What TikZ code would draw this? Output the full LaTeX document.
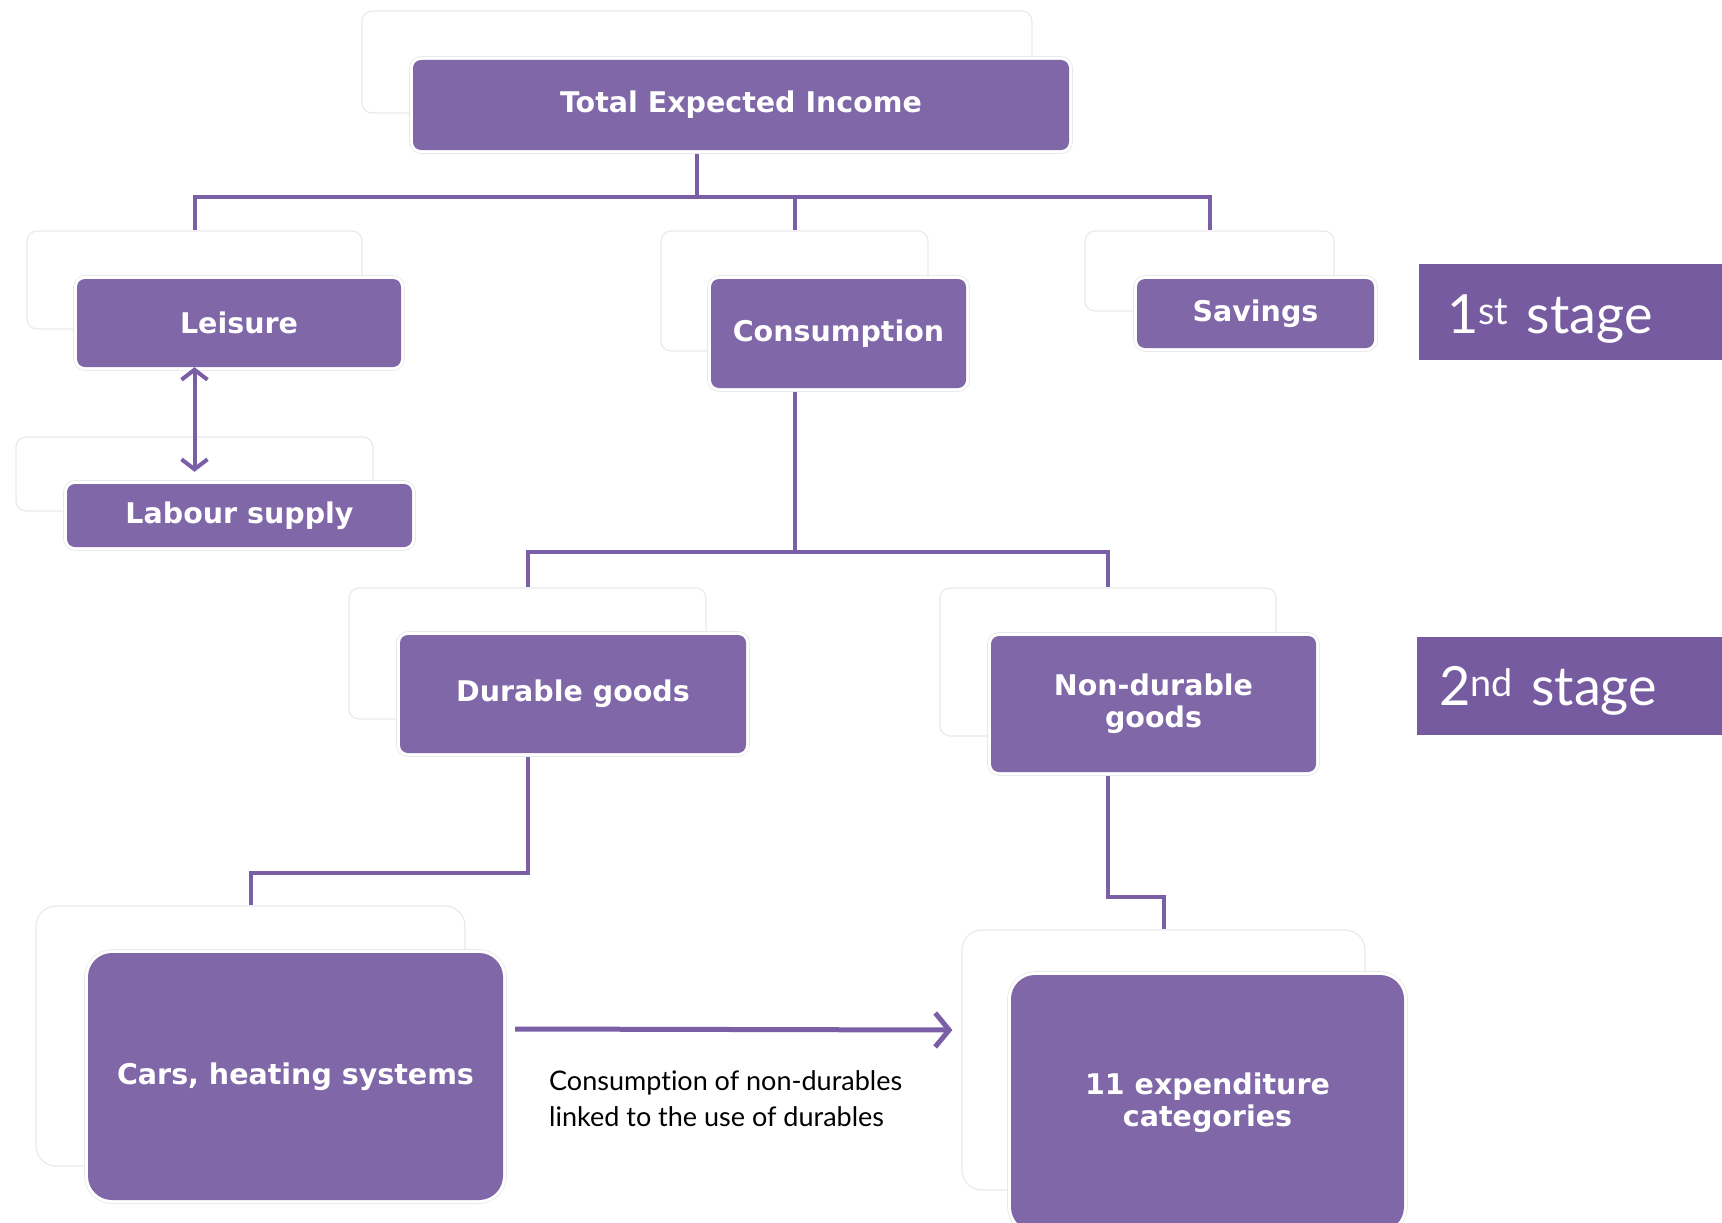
\documentclass[tikz,border=0pt]{standalone}
\usepackage{fontspec}
\setmainfont{Lato}[Ligatures=NoCommon]
\newfontfamily\boxfont{DejaVu Sans}
\usetikzlibrary{arrows.meta,calc}
\definecolor{boxpurple}{HTML}{8068A8}
\definecolor{stagepurple}{HTML}{765BA0}
\definecolor{linepurple}{HTML}{7A5EA6}
\definecolor{bgline}{HTML}{EAEAEA}
\begin{document}
\begin{tikzpicture}[x=1pt,y=-1pt,
  bgbox/.style={draw=bgline, line width=1.2pt, fill=white, rounded corners=10pt, inner sep=0pt},
  pbox/.style={fill=boxpurple, rounded corners=8pt, inner sep=0pt, text=white,
    font=\boxfont\bfseries\fontsize{28.5}{32}\selectfont, align=center,
    preaction={draw=black!9, double=white, double distance=6pt, line width=0.8pt}},
  bigbox/.style={pbox, rounded corners=24pt},
  conn/.style={draw=linepurple, line width=4pt},
  stagebox/.style={fill=stagepurple, inner ysep=0pt, anchor=north west, text=white,
    font=\fontsize{54}{60}\selectfont, align=left},
  note/.style={font=\fontsize{27}{36}\selectfont, align=left, anchor=west, inner sep=0pt}
]
\useasboundingbox (0,0) rectangle (1722,1223);
\clip (0,0) rectangle (1722,1223);

% background (offset) boxes
\node[bgbox, minimum width=670, minimum height=102] (teiBg) at (697,62) {};
\node[bgbox, minimum width=335, minimum height=98] (leisureBg) at (194.5,280) {};
\node[bgbox, minimum width=267, minimum height=120] (consBg) at (794.5,291) {};
\node[bgbox, minimum width=249, minimum height=80] (savBg) at (1209.5,271) {};
\node[bgbox, minimum width=357, minimum height=74] (labBg) at (194.5,474) {};
\node[bgbox, minimum width=357, minimum height=131] (durBg) at (527.5,653.5) {};
\node[bgbox, minimum width=336, minimum height=148] (ndBg) at (1108,662) {};
\node[bgbox, minimum width=429, minimum height=260, rounded corners=20pt] (carsBg) at (250.5,1036) {};
\node[bgbox, minimum width=403, minimum height=260, rounded corners=20pt] (expBg) at (1163.5,1060) {};

% connectors
\draw[conn] (teiBg.south) -- (teiBg.south |- 0,197) coordinate (bus1);
\draw[conn] (leisureBg.north) |- (savBg.north |- bus1) -- (savBg.north);
\draw[conn] (consBg.north) -- (consBg.north |- bus1);
\draw[conn] (consBg.south) -- (consBg.south |- 0,552) coordinate (bus2);
\draw[conn] (durBg.north) |- (ndBg.north |- bus2) -- (ndBg.north);
\draw[conn] (durBg.south) -- (durBg.south |- 0,873) -| (carsBg.north);
\draw[conn] (ndBg.south) -- (ndBg.south |- 0,897) -| (expBg.north);

% main boxes
\node[pbox, minimum width=656, minimum height=90] (tei) at (741,105) {Total Expected Income};
\node[pbox, minimum width=324, minimum height=88] (leisure) at (239,323) {Leisure};
\node[pbox, minimum width=255, minimum height=109] (cons) at (838.5,333.5) {Consumption};
\node[pbox, minimum width=237, minimum height=69] (sav) at (1255.5,313.5) {Savings};
\node[pbox, minimum width=345, minimum height=63] (lab) at (239.5,515.5) {Labour supply};
\node[pbox, minimum width=346, minimum height=118] (dur) at (573,694) {Durable goods};
\node[pbox, minimum width=325, minimum height=136] (nd) at (1153.5,704) {Non-durable\\goods};
\node[bigbox, minimum width=415, minimum height=247] (cars) at (295.5,1076.5) {Cars, heating systems};
\node[bigbox, minimum width=393, minimum height=256] (exp) at (1207.5,1103) {11 expenditure\\categories};

% arrows
\draw[linepurple, line width=4pt, {Straight Barb[length=10pt,width=26pt]}-{Straight Barb[length=10pt,width=26pt]}]
  (leisureBg.center |- leisure.south) -- ($(labBg.center |- lab.north)+(0,-12)$);
\draw[linepurple, line width=5pt, -{Straight Barb[length=14pt,width=34pt]}]
  ($(cars.east |- 0,1029)+(12,0)$) -- ($(expBg.west |- 0,1030)+(-9,0)$);
\node[note] (notetext) at (549,1099) {Consumption of non-durables\\linked to the use of durables};

% stage labels
\node[stagebox, minimum width=303, minimum height=96, inner xsep=28pt, text width=247pt] (stage1) at (1419,264)
  {\raisebox{-7pt}[\height][\depth]{1\textsuperscript{st} stage}};
\node[stagebox, minimum width=305, minimum height=98, inner xsep=22pt, text width=261pt] (stage2) at (1417,637)
  {\raisebox{-5pt}[\height][\depth]{2\textsuperscript{nd} stage}};
\end{tikzpicture}
\end{document}
